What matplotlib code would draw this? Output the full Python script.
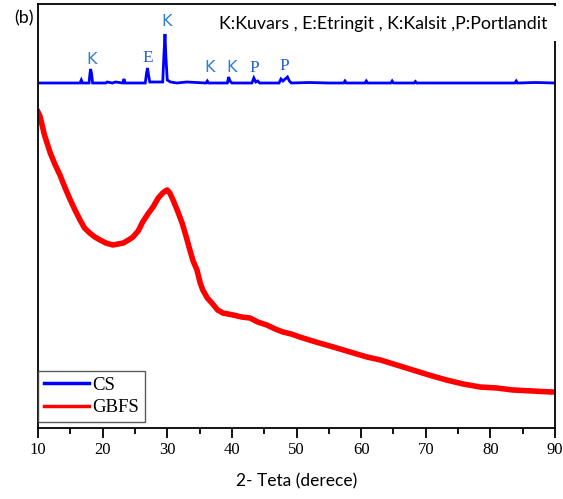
import matplotlib
matplotlib.use("Agg")
import matplotlib.pyplot as plt
from matplotlib.ticker import MultipleLocator
from matplotlib.patches import Rectangle

# ---- data (intensity in arbitrary units) ----
cs_theta = [10, 12, 14, 16.5, 16.7, 16.9, 17.9, 18.05, 18.15, 18.3, 18.45, 20.5, 20.7, 21.5, 22.0, 23.1,
            23.3, 23.5, 26.6, 26.8, 26.95, 27.1, 27.3, 29.3, 29.5, 29.65, 29.8, 30.0, 30.5, 31.5, 33.0,
            36.0, 36.2, 36.4, 39.3, 39.5, 39.7, 40.0, 43.1, 43.4, 43.7, 44.0, 44.3, 47.3, 47.6, 47.9,
            48.6, 48.9, 49.2, 52.0, 55.0, 57.3, 57.5, 57.7, 60.6, 60.8, 61.0, 64.6, 64.8, 65.0, 68.2,
            68.4, 68.6, 75.0, 83.8, 84.0, 84.2, 87.0, 90]
cs_int = [345, 345, 345, 345, 348, 345, 345, 355, 359, 354, 345, 345, 346, 345, 346, 345,
          349, 345, 345, 355, 360, 353, 346, 346, 375, 394, 370, 348, 346, 345, 346,
          345, 347, 345, 345, 351, 347, 345, 345, 350, 346, 347, 345, 345, 349, 347,
          351, 347, 345, 345.5, 345, 345, 347, 345, 345, 347, 345, 345, 347, 345, 345,
          346.5, 345, 345, 345, 347, 345, 345.5, 345]

gbfs_theta = [10.0, 10.3, 11.0, 11.9, 12.6, 13.4, 14.2, 15.0, 15.8, 16.5, 17.2, 18.0, 18.8, 19.6, 20.5,
              21.6, 22.4, 23.2, 24.0, 24.7, 25.5, 26.2, 27.0, 27.8, 28.6, 29.3, 29.7, 30.0, 30.4,
              30.9, 31.6, 32.3, 32.9, 33.5, 34.0, 34.6, 35.1, 35.5, 36.2, 36.9, 37.8, 38.6, 40.2,
              41.5, 42.8, 44.0, 45.4, 46.7, 47.9, 49.2, 50.5, 53.0, 55.7, 58.3, 60.9, 63.0, 65.5,
              68.0, 70.5, 73.2, 75.8, 78.4, 81.0, 83.5, 86.5, 89.5, 90.0]
gbfs_int = [316, 312, 293, 275, 264, 253, 240, 228, 217, 208, 200, 195, 191, 188, 185,
            183, 184, 185, 188, 191, 197, 206, 214, 221, 230, 235, 237, 238, 235,
            228, 217, 205, 192, 178, 167, 158, 145, 138, 130, 125, 118, 115, 113,
            111, 110, 106, 103, 99, 96, 94, 91, 86, 81, 76, 71, 68, 63,
            58, 53, 48, 44, 41, 40, 38, 37, 36, 36]

peak_labels = ["K", "E", "K", "K", "K", "P", "P"]
peak_label_theta = [18.35, 27.0, 29.96, 36.5, 39.9, 43.4, 48.1]
peak_label_int = [368, 370, 406, 360, 360, 360, 362]
peak_label_serif = [False, True, False, False, False, True, True]

fig = plt.figure(figsize=(5.63, 4.99), dpi=100)
ax = fig.add_axes([38/563, 1-428/499, (555-38)/563, (428-4)/499])

ax.plot(cs_theta, cs_int, color="#0000ff", lw=2.0, label="CS", solid_joinstyle="miter")
ax.plot(gbfs_theta, gbfs_int, color="#ff0000", lw=4.0, label="GBFS")

for lab, t, v, s in zip(peak_labels, peak_label_theta, peak_label_int, peak_label_serif):
    if s:
        ax.text(t, v, lab, color="#2a62c9", fontsize=12.5, family="Liberation Serif",
                ha="center", va="center")
    else:
        ax.text(t, v, lab, color="#2f80cf", fontsize=11.5, family="DejaVu Sans",
                ha="center", va="center")

ax.set_xlim(10, 90)
ax.set_ylim(0, 424)
ax.set_yticks([])
ax.xaxis.set_major_locator(MultipleLocator(10))
ax.xaxis.set_minor_locator(MultipleLocator(5))
ax.tick_params(axis="x", which="major", direction="out", length=7, width=1.3,
               labelsize=12, pad=3)
ax.tick_params(axis="x", which="minor", direction="out", length=4, width=1.3)
for lbl in ax.get_xticklabels():
    lbl.set_family("Liberation Serif")
for sp in ax.spines.values():
    sp.set_linewidth(1.3)

ax.set_xlabel("2- Teta (derece)", fontsize=12.5, family="Lato", labelpad=11)

fig.text(24/563, 1-18/499, "(b)", fontsize=13, family="Lato", ha="center", va="center")
fig.text(219/563, 1-24/499, "K:Kuvars , E:Etringit , K:Kalsit ,P:Portlandit", fontsize=12.8,
         family="Lato", ha="left", va="center")

# white box of the annotation hiding the top of the right spine
fig.add_artist(Rectangle((552/563, 1-41/499), 10/563, 35/499, transform=fig.transFigure,
                         facecolor="white", edgecolor="none", zorder=5))

leg = ax.legend(loc="lower left", bbox_to_anchor=(0, 6/424), prop={"family": "Liberation Serif", "size": 13.5},
                frameon=True, fancybox=False, edgecolor="#333333", handlelength=2.4,
                handletextpad=0.2, borderaxespad=0, borderpad=0.3, labelspacing=0.3)
leg.get_frame().set_linewidth(1.0)
for l in leg.get_lines():
    l.set_linewidth(2.5)

fig.savefig("out.png", dpi=100)
